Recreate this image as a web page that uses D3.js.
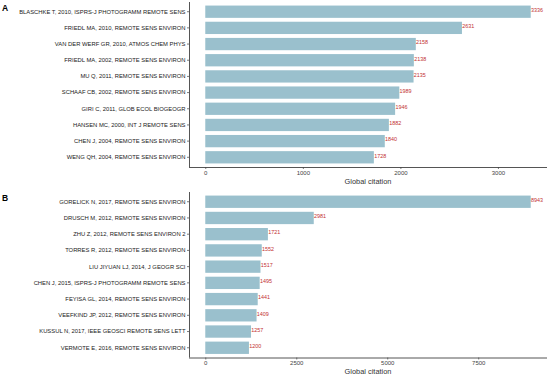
<!DOCTYPE html>
<html><head><meta charset="utf-8">
<script src="https://cdn.jsdelivr.net/npm/d3@7"></script>
<style>body{margin:0;background:#fff}svg{display:block;font-family:"Liberation Sans",Arial,sans-serif}</style>
</head><body><svg id="c" width="550" height="376"></svg>
<script>
const docsA = ["BLASCHKE T, 2010, ISPRS-J PHOTOGRAMM REMOTE SENS","FRIEDL MA, 2010, REMOTE SENS ENVIRON","VAN DER WERF GR, 2010, ATMOS CHEM PHYS","FRIEDL MA, 2002, REMOTE SENS ENVIRON","MU Q, 2011, REMOTE SENS ENVIRON","SCHAAF CB, 2002, REMOTE SENS ENVIRON","GIRI C, 2011, GLOB ECOL BIOGEOGR","HANSEN MC, 2000, INT J REMOTE SENS","CHEN J, 2004, REMOTE SENS ENVIRON","WENG QH, 2004, REMOTE SENS ENVIRON"];
const citesA = [3336,2631,2158,2138,2135,1989,1946,1882,1840,1728];
const ticksA = [0,1000,2000,3000];
const docsB = ["GORELICK N, 2017, REMOTE SENS ENVIRON","DRUSCH M, 2012, REMOTE SENS ENVIRON","ZHU Z, 2012, REMOTE SENS ENVIRON 2","TORRES R, 2012, REMOTE SENS ENVIRON","LIU JIYUAN LJ, 2014, J GEOGR SCI","CHEN J, 2015, ISPRS-J PHOTOGRAMM REMOTE SENS","FEYISA GL, 2014, REMOTE SENS ENVIRON","VEEFKIND JP, 2012, REMOTE SENS ENVIRON","KUSSUL N, 2017, IEEE GEOSCI REMOTE SENS LETT","VERMOTE E, 2016, REMOTE SENS ENVIRON"];
const citesB = [8943,2981,1721,1552,1517,1495,1441,1409,1257,1200];
const ticksB = [0,2500,5000,7500];
const xTitle = "Global citation";

const svg = d3.select("#c");
function panel(label, docs, cites, ticks, top, bottom) {
  const left = 189, right = 547;
  const mx = d3.max(cites);
  const x = d3.scaleLinear().domain([-mx*0.05, mx*1.05]).range([left, right]);
  const y = d3.scaleBand().domain(docs).range([top, bottom]).paddingInner(0.24).paddingOuter(0.22);
  const g = svg.append("g");
  g.selectAll("rect.bar").data(docs).join("rect")
    .attr("x", x(0)).attr("y", d => y(d))
    .attr("width", (d,i) => x(cites[i]) - x(0)).attr("height", y.bandwidth())
    .attr("fill", "#9AC0CD");
  g.selectAll("text.val").data(docs).join("text")
    .attr("x", (d,i) => x(cites[i]) + 0.3).attr("y", d => y(d) + y.bandwidth()/2 + 0.3)
    .attr("font-size", 5.4).attr("fill", "#C23030")
    .text((d,i) => cites[i]);
  // y axis
  const ya = g.append("g").attr("transform", `translate(${left},0)`)
    .call(d3.axisLeft(y).tickSize(2).tickPadding(1.5));
  ya.select(".domain").attr("stroke", "#555").attr("stroke-width", 1).attr("d", `M0.5,${top}V${bottom}`);
  ya.selectAll(".tick line").attr("stroke", "#444").attr("stroke-width", 0.7);
  ya.selectAll(".tick text").attr("font-size", 5.85).attr("fill", "#222").attr("font-family", "Liberation Sans, Arial, sans-serif");
  // x axis
  const xa = g.append("g").attr("transform", `translate(0,${bottom})`)
    .call(d3.axisBottom(x).tickValues(ticks).tickFormat(d3.format("d")).tickSize(2).tickPadding(1.5));
  xa.select(".domain").attr("stroke", "#555").attr("stroke-width", 1).attr("d", `M${left},0.5H${right}`);
  xa.selectAll(".tick line").attr("stroke", "#444").attr("stroke-width", 0.7);
  xa.selectAll(".tick text").attr("font-size", 6).attr("fill", "#444").attr("font-family", "Liberation Sans, Arial, sans-serif");
  g.append("text").attr("x", (left+right)/2).attr("y", bottom + 16.5)
    .attr("text-anchor", "middle").attr("font-size", 7.4).attr("fill", "#333").text(xTitle);
  g.append("text").attr("x", 2).attr("y", top + 8.5)
    .attr("font-size", 8.5).attr("font-weight", "bold").attr("fill", "#000").text(label);
}
panel("A", docsA, citesA, ticksA, 2, 167);
panel("B", docsB, citesB, ticksB, 192, 357.5);
</script></body></html>
